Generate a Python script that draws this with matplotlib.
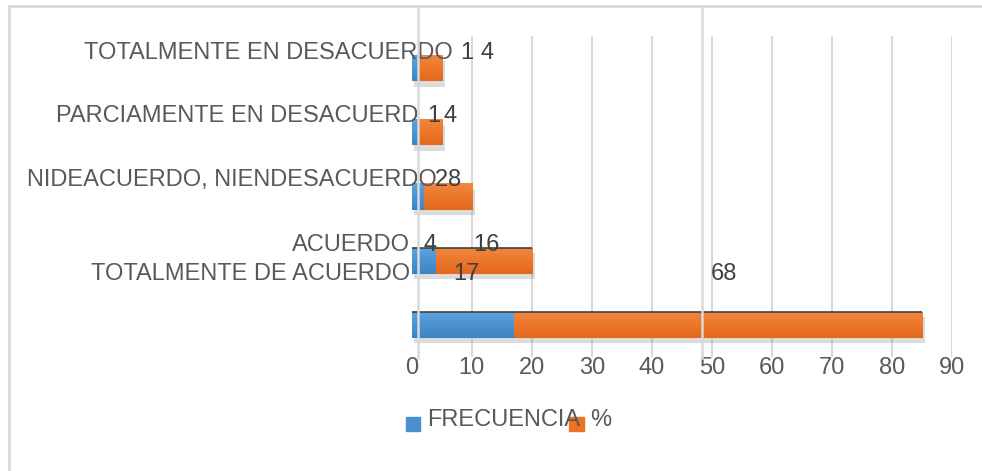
import numpy as np
import matplotlib.pyplot as plt
import matplotlib.patheffects as pe
from matplotlib.lines import Line2D
from matplotlib.patches import Rectangle
from matplotlib.transforms import blended_transform_factory

plt.rcParams['font.family'] = ['Liberation Sans', 'DejaVu Sans']

# data (top row first, as in the picture)
categories = ["TOTALMENTE EN DESACUERDO", "PARCIAMENTE EN DESACUERD",
              "NIDEACUERDO, NIENDESACUERDO", "ACUERDO", "TOTALMENTE DE ACUERDO"]
frecuencia = [1, 1, 2, 4, 17]
porcentaje = [4, 4, 8, 16, 68]
xticks = [0, 10, 20, 30, 40, 50, 60, 70, 80, 90]

# layout of the (misplaced) labels, as they sit in the screenshot
label_dy = [-0.24, -0.26, -0.26, -0.25, -0.79]      # rows, relative to bar centre
cat_right = [6.9, 1.05, 4.1, -0.3, -0.3]            # right edge of category text
shift_f = [8.75, 3.25, 3.9, 1.0, 0.6]               # data label shift, blue
shift_p = [9.6, 3.4, 1.1, 0.5, 1.0]                 # data label shift, orange
top_edge = [False, False, False, True, True]

W, H = 982, 471
TXT = "#595959"
GRID = "#d9d9d9"
FS = 17

fig = plt.figure(figsize=(W / 100, H / 100), dpi=100)
ax = fig.add_axes([411.7 / W, 1 - 357 / H, 540.6 / W, 321 / H])

y = np.arange(len(categories))
bh = 0.405


def gradient_bar(left, width, yc, c_top, c_bot):
    bar = ax.barh(yc, width, left=left, height=bh, color=c_bot, zorder=3,
                  path_effects=[pe.withSimplePatchShadow(offset=(2, -4), shadow_rgbFace="#8c8c8c", alpha=0.3)])[0]
    grad = np.linspace(0, 1, 50).reshape(-1, 1)
    cols = np.array([plt.matplotlib.colors.to_rgb(c_top), plt.matplotlib.colors.to_rgb(c_bot)])
    img = cols[0] * (1 - grad[..., None]) + cols[1] * grad[..., None]
    im = ax.imshow(img, extent=(left, left + width, yc + bh / 2, yc - bh / 2),
                   aspect="auto", zorder=3.5, interpolation="bilinear")
    im.set_clip_path(bar)
    return bar


for i in y:
    f, p = frecuencia[i], porcentaje[i]
    gradient_bar(0, f, i, "#5ea3dc", "#3e84c5")
    gradient_bar(f, p, i, "#f2873f", "#e4681a")
    if top_edge[i]:
        ax.hlines(i - bh / 2, 0, f + p, color="#404040", lw=1.2, zorder=4)
    # category label and data labels
    ax.text(cat_right[i], i + label_dy[i], categories[i], ha="right", va="center",
            fontsize=FS, color=TXT, clip_on=False, zorder=5)
    ax.text(f / 2 + shift_f[i], i + label_dy[i], str(f), ha="center", va="center",
            fontsize=FS, color="#404040", zorder=5)
    ax.text(f + p / 2 + shift_p[i], i + label_dy[i], str(p), ha="center", va="center",
            fontsize=FS, color="#404040", zorder=5)

ax.set_xlim(0, 90)
ax.set_ylim(len(categories) - 0.5, -0.5)
ax.set_xticks(xticks)
ax.set_yticks([])
ax.tick_params(axis="x", length=0, labelsize=FS, labelcolor=TXT, pad=0)
for s in ax.spines.values():
    s.set_visible(False)
for xv in xticks[1:]:
    ax.axvline(xv, color=GRID, lw=1.5, zorder=1)

# stray full-height lines of the screenshot
tr = blended_transform_factory(ax.transData, fig.transFigure)
for xv in [1.1, 48.4]:
    ax.add_line(Line2D([xv, xv], [1 - 358 / H, 1 - 6 / H], transform=tr,
                       color=GRID, lw=1.8, clip_on=False, zorder=6))

# outer frame
fig.add_artist(Line2D([9 / W, 9 / W], [0, 1 - 6 / H], color=GRID, lw=2))
fig.add_artist(Line2D([9 / W, 1], [1 - 6 / H, 1 - 6 / H], color=GRID, lw=2))

# legend
fig.add_artist(Rectangle((406 / W, 1 - 431 / H), 14 / W, 14 / H, color="#4a90d0"))
fig.add_artist(Rectangle((569 / W, 1 - 431 / H), 15 / W, 14 / H, color="#ec7224"))
fig.text(427 / W, 1 - 420 / H, "FRECUENCIA", ha="left", va="center", fontsize=FS, color=TXT)
fig.text(590 / W, 1 - 420 / H, "%", ha="left", va="center", fontsize=FS, color=TXT)

fig.savefig("out.png", dpi=100)
